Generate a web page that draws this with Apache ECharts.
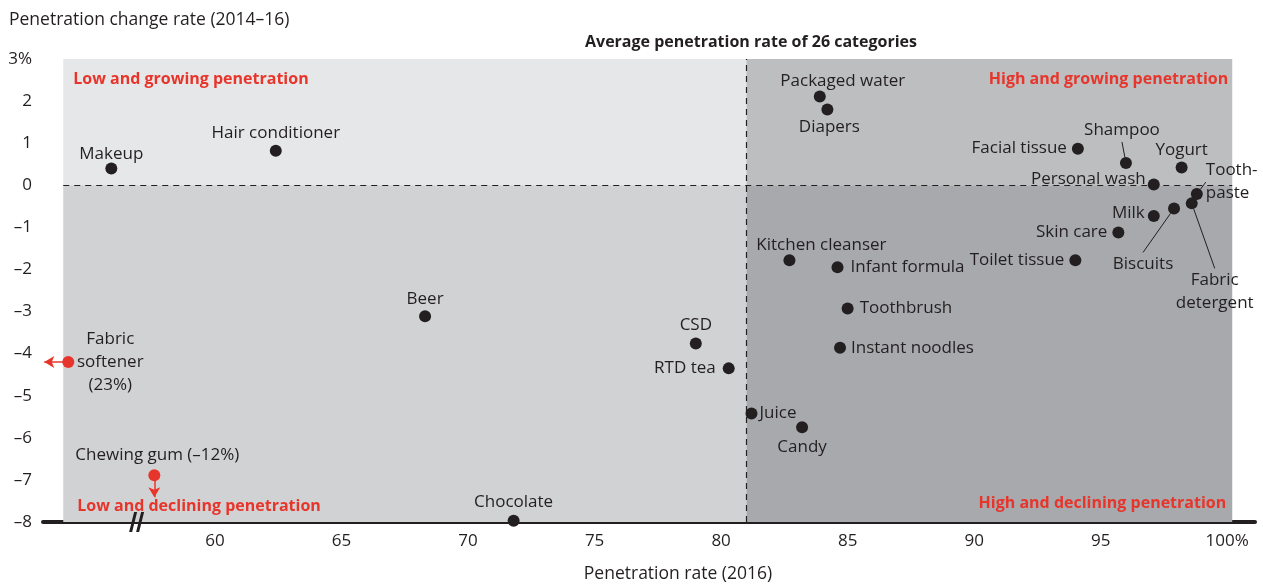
<!DOCTYPE html>
<html>
<head>
<meta charset="utf-8">
<script src="https://cdn.jsdelivr.net/npm/echarts@6/dist/echarts.min.js"></script>
<style>
  html, body { margin: 0; padding: 0; background: #fff; }
  #chart { width: 1263px; height: 584px; }
</style>
</head>
<body>
<div id="chart"></div>
<script>
  // 26 categories: penetration rate 2016 (x) vs change rate 2014-16 (y)
  const names = ['Makeup', 'Hair conditioner', 'Beer', 'Fabric softener', 'Chewing gum', 'Chocolate',
    'CSD', 'RTD tea', 'Juice', 'Candy', 'Toothbrush', 'Instant noodles', 'Kitchen cleanser',
    'Infant formula', 'Packaged water', 'Diapers', 'Facial tissue', 'Shampoo', 'Yogurt',
    'Personal wash', 'Toothpaste', 'Fabric detergent', 'Biscuits', 'Milk', 'Skin care', 'Toilet tissue']
  const penetration = [55.9, 62.4, 68.3, 54.2, 57.6, 71.8,
    79.0, 80.3, 81.2, 83.2, 85.0, 84.7, 82.7,
    84.6, 83.9, 84.2, 94.1, 96.0, 98.2,
    97.1, 98.8, 98.6, 97.9, 97.1, 95.7, 94.0]
  const changeRate = [0.40, 0.82, -3.11, -4.20, -6.89, -7.97,
    -3.76, -4.35, -5.42, -5.75, -2.93, -3.86, -1.78,
    -1.95, 2.11, 1.80, 0.87, 0.53, 0.42,
    0.02, -0.21, -0.43, -0.55, -0.73, -1.12, -1.78]
  const displayNames = { 'Fabric softener': 'Fabric\nsoftener\n(23%)', 'Chewing gum': 'Chewing gum (–12%)',
    'Toothpaste': 'Tooth-\npaste', 'Fabric detergent': 'Fabric\ndetergent' }
  // off-scale categories, drawn red with an arrow
  const offScale = { 'Fabric softener': 'left', 'Chewing gum': 'down' }

  const xTicks = [60, 65, 70, 75, 80, 85, 90, 95, 100]
  const yTicks = [3, 2, 1, 0, -1, -2, -3, -4, -5, -6, -7, -8]
  const avgPenetration = 81
  const xMin = 53.2, xMax = 101.1, xLow = 54, xHigh = 100.2
  const yMin = -8, yMax = 3
  const breakAt = 56.9

  const red = '#e8352b'
  const ink = '#231f20'
  const font = 'Open Sans'

  // label placement: [position, distance]
  const labelPos = {
    'Makeup': ['top', 0], 'Hair conditioner': ['top', 0], 'Beer': ['top', 0],
    'Fabric softener': ['right', 36], 'Chewing gum': ['top', 3], 'Chocolate': ['top', 1],
    'CSD': ['top', 1], 'RTD tea': ['left', 7], 'Juice': ['right', 2],
    'Candy': ['bottom', 2], 'Toothbrush': ['right', 6], 'Instant noodles': ['right', 5],
    'Kitchen cleanser': ['top', 0], 'Infant formula': ['right', 7],
    'Packaged water': ['top', 1], 'Diapers': ['bottom', 0], 'Facial tissue': ['left', 5],
    'Shampoo': ['top', 0], 'Yogurt': ['top', 0], 'Personal wash': ['left', 2],
    'Toothpaste': ['right', 3], 'Fabric detergent': ['bottom', 3], 'Biscuits': ['bottom', 5],
    'Milk': ['left', 3], 'Skin care': ['left', 5], 'Toilet tissue': ['left', 5]
  }
  // extra label shifts [dx, dy]
  const labelShift = {
    'Makeup': [0, 3], 'Chewing gum': [3, 0], 'Kitchen cleanser': [32, 2], 'Packaged water': [23, 3],
    'Diapers': [2, 0], 'Personal wash': [0, -5], 'Milk': [0, -3],
    'Shampoo': [-4, -15], 'Toothpaste': [0, -12], 'Fabric detergent': [23, 56], 'Biscuits': [-31, 33]
  }
  // these get a leader line
  const leaders = ['Shampoo', 'Toothpaste', 'Fabric detergent', 'Biscuits']

  const points = names.map(function (n, i) {
    const p = labelPos[n]
    const isOff = !!offScale[n]
    const lb = {
      show: true,
      formatter: displayNames[n] || n,
      position: p[0],
      distance: p[1],
      color: ink,
      fontFamily: font,
      fontSize: 17,
      lineHeight: 23
    }
    if (n === 'Fabric softener' || n === 'Fabric detergent' || n === 'Biscuits' || n === 'Shampoo') lb.align = 'center'
    return {
      name: n,
      value: [penetration[i], changeRate[i]],
      itemStyle: { color: isOff ? red : ink, opacity: 1 },
      label: lb,
      labelLine: { show: leaders.indexOf(n) >= 0, lineStyle: { color: ink, width: 1 } }
    }
  })

  // arrows for off-scale values, starting at the point itself
  const arrows = names.filter(function (n) { return offScale[n] }).map(function (n) {
    const i = names.indexOf(n)
    const from = [penetration[i], changeRate[i]]
    const to = offScale[n] === 'left' ? [from[0] - 0.95, from[1]] : [from[0], from[1] - 0.52]
    return [{ coord: from }, { coord: to }]
  })

  const chart = echarts.init(document.getElementById('chart'))
  chart.setOption({
    animation: false,
    textStyle: { fontFamily: font },
    title: [{
      text: 'Average penetration rate of 26 categories',
      left: 746, top: 29, textAlign: 'center',
      textStyle: { fontFamily: font, fontSize: 16, fontWeight: 'bold', color: ink }
    }, {
      text: 'Penetration change rate (2014–16)',
      left: 4, top: 6,
      textStyle: { fontFamily: font, fontSize: 17.5, fontWeight: 'normal', color: ink }
    }, {
      text: 'Penetration rate (2016)',
      left: 673, top: 560, textAlign: 'center',
      textStyle: { fontFamily: font, fontSize: 17.5, fontWeight: 'normal', color: ink }
    }],
    grid: { left: 43, right: 8, top: 59, bottom: 62 },
    xAxis: {
      type: 'value', min: xMin, max: xMax,
      splitLine: { show: false },
      axisTick: { show: false },
      axisLine: { show: true, onZero: false, lineStyle: { color: ink, width: 4 } },
      axisLabel: {
        customValues: xTicks, margin: 11, color: ink, fontFamily: font, fontSize: 17,
        formatter: function (v) { return v === 100 ? '100%' : String(v) }
      }
    },
    yAxis: {
      type: 'value', min: yMin, max: yMax, interval: 1,
      splitLine: { show: false },
      axisTick: { show: false },
      axisLine: { show: false },
      axisLabel: {
        margin: 11, color: ink, fontFamily: font, fontSize: 17,
        formatter: function (v) {
          if (v === yTicks[0]) return v + '%'
          return v < 0 ? '–' + Math.abs(v) : String(v)
        }
      }
    },
    series: [{
      // quadrants and dividers
      type: 'scatter', data: [], silent: true,
      markArea: {
        silent: true,
        label: { fontFamily: font, fontSize: 16, fontWeight: 'bold', color: red },
        data: [
          [{ coord: [xLow, 0], itemStyle: { color: '#e6e7e8' },
             label: { show: true, formatter: 'Low and growing penetration', position: 'insideTopLeft', offset: [5, 7] } },
           { coord: [avgPenetration, yMax] }],
          [{ coord: [xLow, yMin], itemStyle: { color: '#d1d2d4' },
             label: { show: true, formatter: 'Low and declining penetration', position: 'insideBottomLeft', offset: [9, -3] } },
           { coord: [avgPenetration, 0] }],
          [{ coord: [avgPenetration, 0], itemStyle: { color: '#bcbec0' },
             label: { show: true, formatter: 'High and growing penetration', position: 'insideTopRight', offset: [1, 7] } },
           { coord: [xHigh, yMax] }],
          [{ coord: [avgPenetration, yMin], itemStyle: { color: '#a7a9ac' },
             label: { show: true, formatter: 'High and declining penetration', position: 'insideBottomRight', offset: [-1, -6] } },
           { coord: [xHigh, 0] }]
        ]
      },
      markLine: {
        silent: true, symbol: 'none',
        label: { show: false },
        lineStyle: { color: ink, type: [6, 5], width: 1.2 },
        data: [
          [{ coord: [xLow, 0] }, { coord: [xHigh, 0] }],
          [{ coord: [avgPenetration, yMin] }, { coord: [avgPenetration, yMax] }]
        ]
      }
    }, {
      // off-scale arrows
      type: 'scatter', data: [], silent: true,
      markLine: {
        silent: true,
        symbol: ['none', 'arrow'], symbolSize: [9, 10],
        label: { show: false },
        lineStyle: { color: red, type: 'solid', width: 1.5 },
        data: arrows
      }
    }, {
      // axis break mark
      type: 'scatter', silent: true, z: 5,
      symbol: 'path://M5,0 L8,0 L3,20 L0,20 Z M12,0 L15,0 L10,20 L7,20 Z',
      symbolSize: [15, 20],
      itemStyle: { color: ink, opacity: 1 },
      data: [[breakAt, yMin]]
    }, {
      type: 'scatter', z: 6,
      symbolSize: 12,
      data: points,
      labelLayout: function (params) {
        const s = labelShift[names[params.dataIndex]]
        if (s) return { dx: s[0], dy: s[1] }
      }
    }]
  })
</script>
</body>
</html>
